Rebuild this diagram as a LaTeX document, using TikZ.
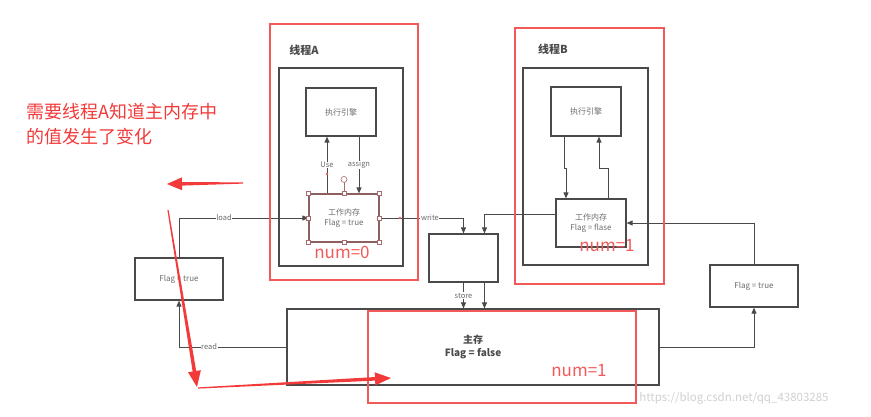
\documentclass[tikz,border=0pt]{standalone}
\usepackage{fontspec}
\setmainfont{Noto Sans CJK SC}
\usetikzlibrary{arrows.meta,calc}
\definecolor{annored}{HTML}{F23A3A}
\definecolor{boxred}{HTML}{F25A5A}
\definecolor{boxgray}{HTML}{4A4A4A}
\definecolor{txtgray}{HTML}{6A6A6A}
\definecolor{handlec}{HTML}{A86A6A}
\definecolor{wmark}{HTML}{D0D0D0}
\newcommand\annoarrow[3]{%
  \path (#2) coordinate (aT) ($(#2)!#3!(#1)$) coordinate (aB);
  \fill[annored] ($(#1)!0.6pt!90:(#2)$) -- ($(aB)!1.8pt!90:(aT)$) -- ($(aB)!6.5pt!90:(aT)$) -- (aT)
     -- ($(aB)!6.5pt!-90:(aT)$) -- ($(aB)!1.8pt!-90:(aT)$) -- ($(#1)!0.6pt!-90:(#2)$) -- cycle;}
\begin{document}
\begin{tikzpicture}[x=1pt,y=-1pt,
  gbox/.style={draw=boxgray, line width=1.2pt, inner sep=0pt, align=center, text=txtgray,
     font=\fontsize{8}{10}\selectfont},
  rbox/.style={draw=boxred, line width=1.4pt, inner sep=0pt},
  conn/.style={draw=boxgray, line width=0.9pt, -{Triangle[length=6pt,width=5pt]}},
  plain/.style={draw=boxgray, line width=0.9pt},
  lbl/.style={fill=white, inner sep=0.6pt, text=txtgray, font=\fontsize{7.5}{8}\selectfont},
  numtxt/.style={text=boxred, inner sep=0pt, font=\fontsize{17}{18}\selectfont},
  title/.style={inner sep=0pt, text=boxgray, font=\fontsize{11}{12}\selectfont\bfseries},
  hdl/.style={draw=handlec, fill=white, line width=0.6pt}
]
\useasboundingbox (0,0) rectangle (871,416);

% thread A
\node[gbox, minimum width=124pt, minimum height=198pt] (grayA) at (341,167) {};
\node[gbox, minimum width=70pt, minimum height=48pt] (engA) at (341,112) {执行引擎};
\node[gbox, draw=handlec!70!boxgray, minimum width=70pt, minimum height=48pt] (wmA) at (344,218) {工作内存\\Flag = true};
\node[title] (tA) at (304,50) {线程A};

% thread B
\node[gbox, minimum width=125pt, minimum height=197pt] (grayB) at (585.5,166.5) {};
\node[gbox, minimum width=70pt, minimum height=49pt] (engB) at (586,111.5) {执行引擎};
\node[gbox, minimum width=70pt, minimum height=48pt] (wmB) at (591,223) {工作内存\\Flag = flase};
\node[title] (tB) at (553,49) {线程B};

% other boxes
\node[gbox, minimum width=69pt, minimum height=48pt] (store) at (463.5,258) {};
\node[gbox, minimum width=372pt, minimum height=76pt, text=boxgray, font=\fontsize{10}{13}\selectfont\bfseries] (main) at (473,347) {主存\\Flag = false};
\node[gbox, minimum width=88pt, minimum height=42pt] (rbox) at (754,286) {Flag = true};
\node[gbox, minimum width=88pt, minimum height=42pt] (lbox) at (179,279) {Flag = true};

% connectors thread A
\draw[conn] ([xshift=-17pt]wmA.north) -- node[lbl] (use) {Use} ([xshift=-17pt]wmA.north |- engA.south);
\draw[conn] ([xshift=18pt]engA.south) -- node[lbl] (assign) {assign} ([xshift=18pt]engA.south |- wmA.north);

% connectors thread B
\coordinate (jB1) at (564,168);
\coordinate (jB2) at (599,168);
\draw[conn] (jB1 |- engB.south) -- (jB1) -| ([xshift=-25pt]wmB.north);
\draw[conn] ([xshift=17pt]wmB.north) |- (jB2) -- (jB2 |- engB.south);

% load / read / write / store
\draw[conn] (lbox.north) |- node[lbl, pos=0.674] (load) {load} (wmA.west);
\draw[conn] (main.west) -| node[lbl, pos=0.36] (read) {read} (lbox.south);
\draw[conn] (wmA.east) -| node[lbl, pos=0.30] (write) {write} (store.north);
\draw[conn] ([yshift=9pt]wmB.west) -| ([xshift=21pt]store.north);
\draw[conn] (store.south) -- node[lbl] (storel) {store} (store.south |- main.north);
\draw[conn] ([xshift=21pt]store.south) -- ([xshift=21pt]store.south |- main.north);
\draw[conn] (main.east) -| (rbox.south);
\draw[conn] (rbox.north) |- (wmB.east);

% selection handles on wmA
\draw[handlec, line width=0.6pt] (wmA.north) -- ++(0,-11);
\draw[hdl] ($(wmA.north)+(0,-14)$) circle (3pt);
\foreach \a in {north west,north,north east,east,south east,south,south west,west}
  \draw[hdl] ($(wmA.\a)+(-2,-2)$) rectangle ++(4,4);
\fill[boxred] (327,174) circle (1.3pt);
\fill[boxred] (400,218) circle (1.3pt);

% red frames
\node[rbox, minimum width=148pt, minimum height=256pt] (redA) at (344,152) {};
\node[rbox, minimum width=149pt, minimum height=256pt] (redB) at (589.5,156) {};
\node[rbox, minimum width=268pt, minimum height=92pt] (redM) at (502,357) {};

\node[numtxt] (num0) at (342,252) {num=0};
\node[numtxt] (num1b) at (607,246) {num=1};
\node[numtxt] (num1m) at (579,371) {num=1};

% annotation
\node[text=annored, align=left, anchor=west, inner sep=0pt, font=\fontsize{18}{25}\selectfont] (note) at (26,124.5) {需要线程A知道主内存中\\的值发生了变化};
\annoarrow{243,183}{167,184}{15pt}
\annoarrow{168,210}{197,387}{16pt}
\annoarrow{198,388}{391,378}{16pt}

% watermark
\node[text=wmark, inner sep=0pt, font=\fontsize{11.5}{12}\selectfont] (wm) at (734,398) {https://blog.csdn.net/qq\_43803285};
\end{tikzpicture}
\end{document}
